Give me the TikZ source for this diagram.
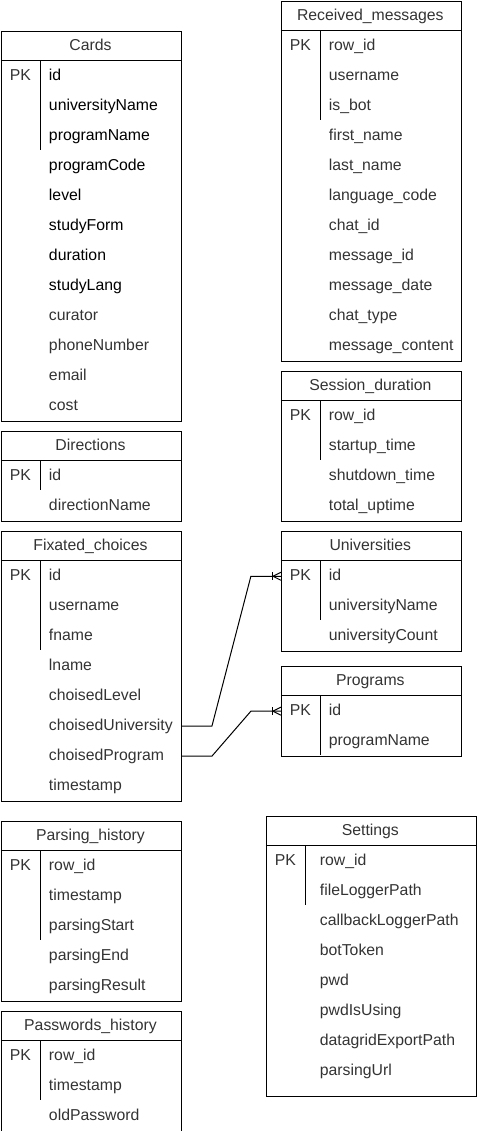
\documentclass[tikz,border=0pt]{standalone}
\usepackage{fontspec}
\setmainfont{Liberation Sans}
\usetikzlibrary{calc}

\definecolor{txtgray}{HTML}{333333}

\tikzset{
    tbl/.style={draw, line width=1pt, minimum width=180pt, anchor=north west, inner sep=0pt},
    txt/.style={inner sep=0pt, text height=11.5pt, text depth=3.5pt},
    ttl/.style={txt, text=txtgray},
    pk/.style={txt, text=txtgray},
    fld/.style={txt, text=txtgray, anchor=west},
    keyfld/.style={txt, text=black, anchor=west},
    crow/.pic={
        \draw[line width=1pt] (-8,-4) -- (-8,4);
        \draw[line width=1pt] (0,-4) -- (-8,0) -- (0,4);
    }
}

\begin{document}
\begin{tikzpicture}[x=1pt, y=-1pt, font=\fontsize{15.8}{18}\selectfont, line width=1pt]
    \useasboundingbox (-0.5,-0.5) rectangle (476,1131);

    % Cards
    \node[tbl, minimum height=390pt] (cards) at (0.5,30.5) {};
    \draw (0.5,60.5) -- (180.5,60.5);
    \draw (40.5,60.5) -- (40.5,150);
    \node[ttl] (cards-t) at (90,46) {Cards};
    \node[pk] (cards-pk) at (20,76) {PK};
    \foreach \f [count=\i] in {id, universityName, programName, programCode, level, studyForm, duration, studyLang}
        \node[keyfld] (cards-\i) at (48,46+30*\i) {\f};
    \foreach \f [count=\i from 9] in {curator, phoneNumber, email, cost}
        \node[fld] (cards-\i) at (48,46+30*\i) {\f};

    % Directions
    \node[tbl, minimum height=90pt] (dir) at (0.5,430.5) {};
    \draw (0.5,460.5) -- (180.5,460.5);
    \draw (40.5,460.5) -- (40.5,490);
    \node[ttl] (dir-t) at (90,446) {Directions};
    \node[pk] (dir-pk) at (20,476) {PK};
    \foreach \f [count=\i] in {id, directionName}
        \node[fld] (dir-\i) at (48,446+30*\i) {\f};

    % Fixated_choices
    \node[tbl, minimum height=270pt] (fix) at (0.5,530.5) {};
    \draw (0.5,560.5) -- (180.5,560.5);
    \draw (40.5,560.5) -- (40.5,650);
    \node[ttl] (fix-t) at (90,546) {Fixated\_choices};
    \node[pk] (fix-pk) at (20,576) {PK};
    \foreach \f [count=\i] in {id, username, fname, lname, choisedLevel, choisedUniversity, choisedProgram, timestamp}
        \node[fld] (fix-\i) at (48,546+30*\i) {\f};

    % Parsing_history
    \node[tbl, minimum height=180pt] (pars) at (0.5,820.5) {};
    \draw (0.5,850.5) -- (180.5,850.5);
    \draw (40.5,850.5) -- (40.5,940);
    \node[ttl] (pars-t) at (90,836) {Parsing\_history};
    \node[pk] (pars-pk) at (20,866) {PK};
    \foreach \f [count=\i] in {row\_id, timestamp, parsingStart, parsingEnd, parsingResult}
        \node[fld] (pars-\i) at (48,836+30*\i) {\f};

    % Passwords_history
    \node[tbl, minimum height=120pt] (pass) at (0.5,1010.5) {};
    \draw (0.5,1040.5) -- (180.5,1040.5);
    \draw (40.5,1040.5) -- (40.5,1100);
    \node[ttl] (pass-t) at (90,1026) {Passwords\_history};
    \node[pk] (pass-pk) at (20,1056) {PK};
    \foreach \f [count=\i] in {row\_id, timestamp, oldPassword}
        \node[fld] (pass-\i) at (48,1026+30*\i) {\f};

    % Received_messages
    \node[tbl, minimum height=360pt] (recv) at (280.5,0.5) {};
    \draw (280.5,30.5) -- (460.5,30.5);
    \draw (320.5,30.5) -- (320.5,120);
    \node[ttl] (recv-t) at (370,16) {Received\_messages};
    \node[pk] (recv-pk) at (300,46) {PK};
    \foreach \f [count=\i] in {row\_id, username, is\_bot, first\_name, last\_name, language\_code, chat\_id, message\_id, message\_date, chat\_type, message\_content}
        \node[fld] (recv-\i) at (328,16+30*\i) {\f};

    % Session_duration
    \node[tbl, minimum height=150pt] (sess) at (280.5,370.5) {};
    \draw (280.5,400.5) -- (460.5,400.5);
    \draw (320.5,400.5) -- (320.5,460);
    \node[ttl] (sess-t) at (370,386) {Session\_duration};
    \node[pk] (sess-pk) at (300,416) {PK};
    \foreach \f [count=\i] in {row\_id, startup\_time, shutdown\_time, total\_uptime}
        \node[fld] (sess-\i) at (328,386+30*\i) {\f};

    % Universities
    \node[tbl, minimum height=120pt] (uni) at (280.5,530.5) {};
    \draw (280.5,560.5) -- (460.5,560.5);
    \draw (320.5,560.5) -- (320.5,620);
    \node[ttl] (uni-t) at (370,546) {Universities};
    \node[pk] (uni-pk) at (300,576) {PK};
    \foreach \f [count=\i] in {id, universityName, universityCount}
        \node[fld] (uni-\i) at (328,546+30*\i) {\f};

    % Programs
    \node[tbl, minimum height=90pt] (prog) at (280.5,665.5) {};
    \draw (280.5,695.5) -- (460.5,695.5);
    \draw (320.5,695.5) -- (320.5,755);
    \node[ttl] (prog-t) at (370,681) {Programs};
    \node[pk] (prog-pk) at (300,711) {PK};
    \foreach \f [count=\i] in {id, programName}
        \node[fld] (prog-\i) at (328,681+30*\i) {\f};

    % Settings
    \node[tbl, minimum width=210pt, minimum height=280pt] (set) at (265.5,815.5) {};
    \draw (265.5,845.5) -- (475.5,845.5);
    \draw (305.5,845.5) -- (305.5,905);
    \node[ttl] (set-t) at (370,831) {Settings};
    \node[pk] (set-pk) at (285,861) {PK};
    \foreach \f [count=\i] in {row\_id, fileLoggerPath, callbackLoggerPath, botToken, pwd, pwdIsUsing, datagridExportPath, parsingUrl}
        \node[fld] (set-\i) at (319,831+30*\i) {\f};

    % Relations
    \draw (fix.east |- fix-6) -- ++(30,0) -- ($(uni.west |- uni-1)+(-30,0)$) -- (uni.west |- uni-1);
    \pic at (uni.west |- uni-1) {crow};
    \draw (fix.east |- fix-7) -- ++(30,0) -- ($(prog.west |- prog-1)+(-30,0)$) -- (prog.west |- prog-1);
    \pic at (prog.west |- prog-1) {crow};
\end{tikzpicture}
\end{document}
